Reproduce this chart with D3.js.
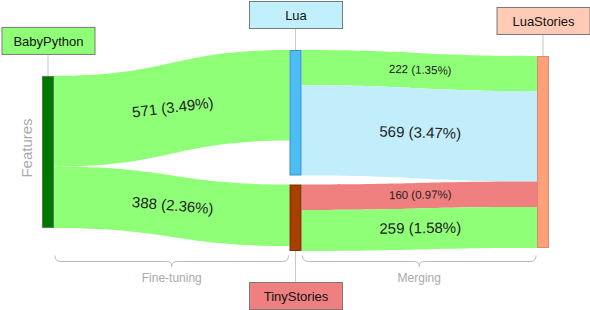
<!DOCTYPE html>
<html>
<head>
<meta charset="utf-8">
<script src="https://cdn.jsdelivr.net/npm/d3@7"></script>
<style>
  body { margin: 0; background: #fff; }
  text { font-family: "Liberation Sans", Arial, sans-serif; }
</style>
</head>
<body>
<div id="chart"></div>
<script>
// data
var nodeNames = ["BabyPython", "Lua", "TinyStories", "LuaStories"];
var nodeColumn = [0, 1, 1, 2];
var linkSource = [0, 0, 1, 1, 2, 2];
var linkTarget = [1, 2, 3, 3, 3, 3];
var linkValue = [571, 388, 222, 569, 160, 259];
var linkPercent = ["3.49%", "2.36%", "1.35%", "3.47%", "0.97%", "1.58%"];
var linkKind = ["python", "python", "python", "lua", "stories", "python"];
var stageNames = ["Fine-tuning", "Merging"];
var axisName = "Features";

var width = 590, height = 310;
var top0 = 50, bottom0 = 251, nodeW = 12, nodePad = 9;

var barFill = {BabyPython: "#007800", Lua: "#4dbdf5", TinyStories: "#a63f00", LuaStories: "#ffa07a"};
var barStroke = {BabyPython: "#5a7a5a", Lua: "#3d8fc0", TinyStories: "#7a3000", LuaStories: "#d88a6a"};
var boxFill = {BabyPython: "#90ff78", Lua: "#c2effc", TinyStories: "#f08080", LuaStories: "#ffcbb6"};
var linkFill = {python: "#90ff78", lua: "#c2eefc", stories: "#f08080"};

var svg = d3.select("#chart")
  .append("svg")
    .attr("width", width)
    .attr("height", height);

// build nodes and links
var nodes = nodeNames.map(function (n, i) {
  return {name: n, col: nodeColumn[i], inV: 0, outV: 0};
});
var links = linkValue.map(function (v, i) {
  return {s: nodes[linkSource[i]], t: nodes[linkTarget[i]], value: v, pct: linkPercent[i], kind: linkKind[i]};
});
links.forEach(function (l) { l.s.outV += l.value; l.t.inV += l.value; });
nodes.forEach(function (n) { n.value = Math.max(n.inV, n.outV); });

var cols = d3.groups(nodes, d => d.col).map(d => d[1]);
var x = d3.scalePoint().domain([0, 1, 2]).range([42, 537]);

// value -> pixels, limited by the fullest column
var k = d3.min(cols, c => (bottom0 - top0 - nodePad * (c.length - 1)) / d3.sum(c, d => d.value));
var h = d3.scaleLinear().domain([0, 1]).range([0, k]);

cols.forEach(function (c) {
  var total = d3.sum(c, d => h(d.value)) + nodePad * (c.length - 1);
  var y = (top0 + bottom0) / 2 - total / 2 + 1.5;
  if (c.length > 1) y = top0;
  c.forEach(function (n) {
    n.x0 = x(n.col); n.x1 = n.x0 + nodeW;
    n.y0 = y; n.y1 = y + h(n.value);
    y = n.y1 + nodePad;
    n.sy = n.y0; n.ty = n.y0;
  });
});
links.forEach(function (l) {
  l.sy0 = l.s.sy; l.sy1 = l.sy0 + h(l.value); l.s.sy = l.sy1;
  l.ty0 = l.t.ty; l.ty1 = l.ty0 + h(l.value); l.t.ty = l.ty1;
});

function band(l) {
  var x0 = l.s.x1, x1 = l.t.x0, xm = (x0 + x1) / 2;
  return "M" + x0 + "," + l.sy0 +
    "C" + xm + "," + l.sy0 + " " + xm + "," + l.ty0 + " " + x1 + "," + l.ty0 +
    "L" + x1 + "," + l.ty1 +
    "C" + xm + "," + l.ty1 + " " + xm + "," + l.sy1 + " " + x0 + "," + l.sy1 + "Z";
}

// links
svg.append("g").selectAll("path")
  .data(links)
  .join("path")
    .attr("d", band)
    .attr("fill", d => linkFill[d.kind]);

// link labels, tilted along the band
svg.append("g").selectAll("text")
  .data(links)
  .join("text")
    .attr("transform", function (d) {
      var cx = (d.s.x1 + d.t.x0) / 2 + 1;
      var cy = ((d.sy0 + d.sy1) / 2 + (d.ty0 + d.ty1) / 2) / 2 - 1;
      var ang = Math.atan2((d.ty0 - d.sy0), (d.t.x0 - d.s.x1)) * 180 / Math.PI * 1.1;
      return "translate(" + cx + "," + cy + ") rotate(" + ang + ")";
    })
    .attr("text-anchor", "middle")
    .attr("dy", "0.35em")
    .attr("font-size", d => d.value > 250 ? 15 : 11.5)
    .attr("fill", "#222")
    .text(d => d.value + " (" + d.pct + ")");

// connectors and name boxes
var boxW = 93, boxH = 27;
nodes.forEach(function (n) {
  var cx = (n.x0 + n.x1) / 2;
  var below = n.name === "TinyStories";
  var by = below ? n.y1 + 31 : n.y0 - 22 - boxH;
  svg.append("line")
    .attr("x1", cx).attr("x2", cx)
    .attr("y1", below ? n.y1 : by + boxH)
    .attr("y2", below ? by : n.y0)
    .attr("stroke", "#c8c8c8").attr("stroke-width", 1);
  svg.append("rect")
    .attr("x", cx - boxW / 2 + 0.5).attr("y", by + 0.5)
    .attr("width", boxW).attr("height", boxH)
    .attr("fill", boxFill[n.name])
    .attr("stroke", "#7a7a7a");
  svg.append("text")
    .attr("x", cx + 0.5).attr("y", by + boxH / 2 + 1)
    .attr("dy", "0.35em")
    .attr("text-anchor", "middle")
    .attr("font-size", 13)
    .attr("fill", "#111")
    .text(n.name);
});

// node bars
svg.append("g").selectAll("rect")
  .data(nodes)
  .join("rect")
    .attr("x", d => d.x0 + 0.5)
    .attr("y", d => d.y0 + 0.5)
    .attr("width", nodeW - 1)
    .attr("height", d => d.y1 - d.y0 - 1)
    .attr("fill", d => barFill[d.name])
    .attr("stroke", d => barStroke[d.name]);

// braces under each stage
var by0 = 255.5;
stageNames.forEach(function (s, i) {
  var x0 = x(i) + nodeW + 1, x1 = x(i + 1) - 1, cx = (x0 + x1) / 2;
  var p = "M" + x0 + "," + by0 +
    "Q" + x0 + "," + (by0 + 6) + " " + (x0 + 6) + "," + (by0 + 6) +
    "H" + (cx - 5) +
    "Q" + cx + "," + (by0 + 6) + " " + cx + "," + (by0 + 11) +
    "Q" + cx + "," + (by0 + 6) + " " + (cx + 5) + "," + (by0 + 6) +
    "H" + (x1 - 6) +
    "Q" + x1 + "," + (by0 + 6) + " " + x1 + "," + by0;
  svg.append("path").attr("d", p)
    .attr("fill", "none").attr("stroke", "#bbb").attr("stroke-width", 1);
  svg.append("text")
    .attr("x", cx).attr("y", 282)
    .attr("text-anchor", "middle")
    .attr("font-size", 12)
    .attr("fill", "#aaa")
    .text(s);
});

// side title
svg.append("text")
  .attr("transform", "translate(32,148) rotate(-90)")
  .attr("text-anchor", "middle")
  .attr("font-size", 15)
  .attr("fill", "#aaa")
  .text(axisName);
</script>
</body>
</html>
